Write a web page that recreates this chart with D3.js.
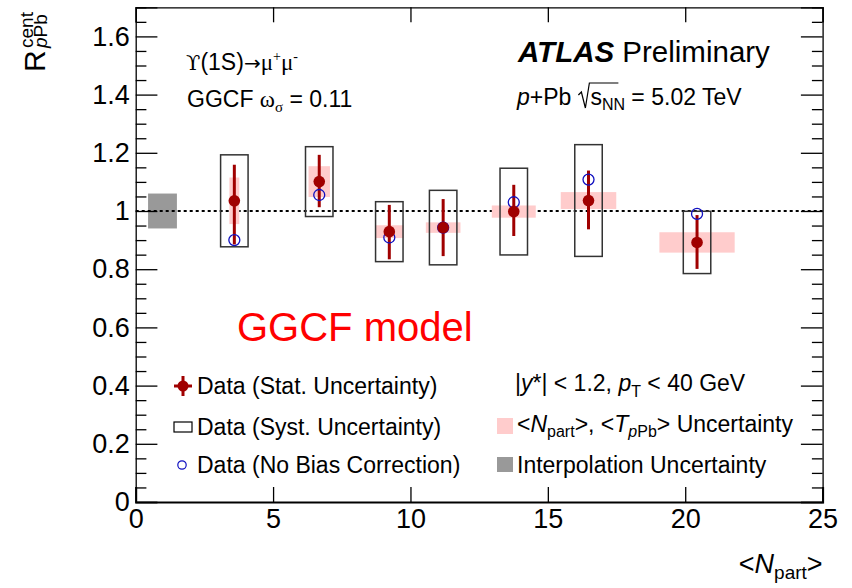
<!DOCTYPE html>
<html>
<head>
<meta charset="utf-8">
<script src="https://cdn.jsdelivr.net/npm/d3@7"></script>
<style>
  body { margin: 0; background: #fff; }
  text { font-family: "Liberation Sans", Arial, sans-serif; }
</style>
</head>
<body>
<div id="chart"></div>
<script>
// <Npart> bin centres and R_pPb^cent values
const npart = [3.59, 6.68, 9.23, 11.19, 13.76, 16.48, 20.43];
const rcp = [1.035, 1.101, 0.929, 0.943, 0.998, 1.036, 0.892];
const statUp = [0.124, 0.092, 0.092, 0.098, 0.092, 0.103, 0.094];
const statDown = [0.150, 0.088, 0.095, 0.098, 0.084, 0.099, 0.091];
const systErr = [0.158, 0.120, 0.103, 0.128, 0.149, 0.192, 0.107];
// <Npart>, <TpPb> uncertainty (pink boxes)
const npartErr = [0.18, 0.39, 0.52, 0.63, 0.80, 1.01, 1.37];
const tppbErr = [0.080, 0.053, 0.022, 0.018, 0.021, 0.029, 0.035];
// no bias correction
const noBias = [0.900, 1.055, 0.909, 0.943, 1.030, 1.108, 0.990];
// interpolation uncertainty band at low Npart
const interpX = [0.45, 1.5];
const interpY = [0.94, 1.06];

const xTicks = [0, 5, 10, 15, 20, 25];
const xTickLabels = ["0", "5", "10", "15", "20", "25"];
const yTicks = [0, 0.2, 0.4, 0.6, 0.8, 1, 1.2, 1.4, 1.6];
const yTickLabels = ["0", "0.2", "0.4", "0.6", "0.8", "1", "1.2", "1.4", "1.6"];

const width = 852, height = 588;
const padL = 135.7, padR = 822.6, padT = 7.3, padB = 502;

const x = d3.scaleLinear().domain([0, 25]).range([padL, padR]);
const y = d3.scaleLinear().domain([0, 1.7]).range([padB, padT]);

const svg = d3.select('#chart').append('svg')
  .attr('width', width)
  .attr('height', height);

const DARKRED = '#a00000';
const PINK = '#ffcccc';
const GREY = '#999999';
const BLUE = '#1010c0';

// interpolation band
svg.append('rect')
  .attr('x', x(interpX[0]))
  .attr('y', y(interpY[1]))
  .attr('width', x(interpX[1]) - x(interpX[0]))
  .attr('height', y(interpY[0]) - y(interpY[1]))
  .attr('fill', GREY);

// dotted line at unity
svg.append('line')
  .attr('x1', x(0)).attr('x2', x(25))
  .attr('y1', y(1)).attr('y2', y(1))
  .attr('stroke', '#000')
  .attr('stroke-width', 2)
  .attr('stroke-dasharray', '3,3');

// pink boxes
svg.selectAll('.pink').data(npart).enter().append('rect')
  .attr('class', 'pink')
  .attr('x', (d, i) => x(d - npartErr[i]))
  .attr('y', (d, i) => y(rcp[i] + tppbErr[i]))
  .attr('width', (d, i) => x(d + npartErr[i]) - x(d - npartErr[i]))
  .attr('height', (d, i) => y(rcp[i] - tppbErr[i]) - y(rcp[i] + tppbErr[i]))
  .attr('fill', PINK);

// systematic boxes
svg.selectAll('.syst').data(npart).enter().append('rect')
  .attr('class', 'syst')
  .attr('x', d => x(d - 0.5))
  .attr('y', (d, i) => y(rcp[i] + systErr[i]))
  .attr('width', d => x(d + 0.5) - x(d - 0.5))
  .attr('height', (d, i) => y(rcp[i] - systErr[i]) - y(rcp[i] + systErr[i]))
  .attr('fill', 'none')
  .attr('stroke', '#333')
  .attr('stroke-width', 1.5);

// stat error bars
svg.selectAll('.stat').data(npart).enter().append('line')
  .attr('class', 'stat')
  .attr('x1', d => x(d)).attr('x2', d => x(d))
  .attr('y1', (d, i) => y(rcp[i] + statUp[i]))
  .attr('y2', (d, i) => y(rcp[i] - statDown[i]))
  .attr('stroke', DARKRED)
  .attr('stroke-width', 3);

// open circles (no bias correction)
svg.selectAll('.nobias').data(npart).enter().append('circle')
  .attr('class', 'nobias')
  .attr('cx', d => x(d))
  .attr('cy', (d, i) => y(noBias[i]))
  .attr('r', 5.5)
  .attr('fill', 'none')
  .attr('stroke', BLUE)
  .attr('stroke-width', 1.3);

// data points
svg.selectAll('.pt').data(npart).enter().append('circle')
  .attr('class', 'pt')
  .attr('cx', d => x(d))
  .attr('cy', (d, i) => y(rcp[i]))
  .attr('r', 5.8)
  .attr('fill', DARKRED);

// axes, ROOT style with inward ticks
const axisFont = g => g.selectAll('text')
  .attr('font-family', '"Liberation Sans", Arial, sans-serif')
  .attr('font-size', 27)
  .attr('fill', '#000');

svg.append('g')
  .attr('transform', `translate(0,${padB})`)
  .call(d3.axisBottom(x).tickValues(xTicks).tickSize(-15).tickPadding(7)
    .tickFormat((d, i) => xTickLabels[i]))
  .call(g => g.select('.domain').attr('stroke-width', 2))
  .call(axisFont);

svg.append('g')
  .attr('transform', `translate(0,${padT})`)
  .call(d3.axisTop(x).tickValues(xTicks).tickSize(-15).tickFormat(''))
  .call(g => g.select('.domain').attr('stroke-width', 1.3));

svg.append('g')
  .attr('transform', `translate(${padL},0)`)
  .call(d3.axisLeft(y).tickValues(yTicks).tickSize(-21.7).tickPadding(6)
    .tickFormat((d, i) => yTickLabels[i]))
  .call(g => g.select('.domain').attr('stroke-width', 1.3))
  .call(axisFont);

const yMinor = d3.range(0, 1.7001, 0.05).filter(v => Math.abs(v / 0.2 - Math.round(v / 0.2)) > 1e-6);

svg.append('g')
  .attr('transform', `translate(${padL},0)`)
  .call(d3.axisLeft(y).tickValues(yMinor).tickSize(-10.7).tickFormat(''))
  .call(g => g.select('.domain').remove());

svg.append('g')
  .attr('transform', `translate(${padR},0)`)
  .call(d3.axisRight(y).tickValues(yTicks).tickSize(-21.7).tickFormat(''))
  .call(g => g.select('.domain').attr('stroke-width', 1.3));

svg.append('g')
  .attr('transform', `translate(${padR},0)`)
  .call(d3.axisRight(y).tickValues(yMinor).tickSize(-10.7).tickFormat(''))
  .call(g => g.select('.domain').remove());

svg.selectAll('.tick line').attr('stroke', '#000').attr('stroke-width', 1.3);

// y axis title R_pPb^cent
const yt = svg.append('g').attr('transform', 'translate(45,72) rotate(-90)');
yt.append('text').attr('x', 0).attr('y', 0).attr('font-size', 30).text('R');
yt.append('text').attr('x', 24).attr('y', -12).attr('font-size', 19).text('cent');
const ysub = yt.append('text').attr('x', 24).attr('y', 2).attr('font-size', 19);
ysub.append('tspan').attr('font-style', 'italic').text('p');
ysub.append('tspan').text('Pb');

// x axis title <Npart>
const xt = svg.append('text').attr('x', padR).attr('y', 573)
  .attr('text-anchor', 'end').attr('font-size', 27);
xt.append('tspan').text('<');
xt.append('tspan').attr('font-style', 'italic').text('N');
xt.append('tspan').attr('font-size', 19).attr('dy', 6).text('part');
xt.append('tspan').attr('dy', -6).text('>');

// ATLAS Preliminary
const at = svg.append('text').attr('x', 518).attr('y', 62).attr('font-size', 29.5);
at.append('tspan').attr('font-weight', 'bold').attr('font-style', 'italic').text('ATLAS');
at.append('tspan').text(' Preliminary');

// p+Pb sqrt(sNN) = 5.02 TeV
const ppb = svg.append('text').attr('x', 517).attr('y', 105).attr('font-size', 23);
ppb.append('tspan').attr('font-style', 'italic').text('p');
ppb.append('tspan').text('+Pb ');
const rootX = 517 + ppb.node().getComputedTextLength() + 7;
svg.append('path')
  .attr('d', `M${rootX},${95} L${rootX + 3},${92} L${rootX + 7},${108} L${rootX + 11},${83} L${rootX + 40},${83}`)
  .attr('fill', 'none').attr('stroke', '#000').attr('stroke-width', 1.2);
const sText = svg.append('text').attr('x', rootX + 12).attr('y', 105).attr('font-size', 23);
sText.append('tspan').text('s');
sText.append('tspan').attr('font-size', 16).attr('dy', 5).text('NN');
sText.append('tspan').attr('dy', -5).text(' = 5.02 TeV');

// Upsilon decay label
const ups = svg.append('text').attr('x', 186).attr('y', 70).attr('font-size', 23);
ups.append('tspan').attr('font-family', '"DejaVu Serif", serif').attr('font-size', 21).text('\u03D2');
ups.append('tspan').text('(1S)');
ups.append('tspan').attr('font-family', '"DejaVu Sans", sans-serif').attr('font-size', 20).text('\u2192');
ups.append('tspan').attr('font-family', '"Liberation Serif", serif').text('\u03BC');
ups.append('tspan').attr('font-family', '"Liberation Serif", serif').attr('font-size', 14).attr('dy', -9).text('+');
ups.append('tspan').attr('font-family', '"Liberation Serif", serif').attr('dy', 9).text('\u03BC');
ups.append('tspan').attr('font-family', '"Liberation Serif", serif').attr('font-size', 14).attr('dy', -9).text('-');

const gg = svg.append('text').attr('x', 187).attr('y', 107).attr('font-size', 23);
gg.append('tspan').text('GGCF ');
gg.append('tspan').attr('font-family', '"Liberation Serif", serif').text('\u03C9');
gg.append('tspan').attr('font-family', '"Liberation Serif", serif').attr('font-size', 15).attr('dy', 5).text('\u03C3');
gg.append('tspan').attr('dy', -5).text(' = 0.11');

// GGCF model annotation
svg.append('text').attr('x', 237).attr('y', 341)
  .attr('font-family', 'Lato, "Open Sans", sans-serif')
  .attr('font-size', 40).attr('fill', '#ff0000').text('GGCF model');

// legend, left column
const legRows = [394, 435, 473];
const legLabels = ['Data (Stat. Uncertainty)', 'Data (Syst. Uncertainty)', 'Data (No Bias Correction)'];
legLabels.forEach((t, i) => {
  svg.append('text').attr('x', 197).attr('y', legRows[i]).attr('font-size', 23).text(t);
});
svg.append('line').attr('x1', 183).attr('x2', 183).attr('y1', 376).attr('y2', 396)
  .attr('stroke', DARKRED).attr('stroke-width', 3);
svg.append('line').attr('x1', 174).attr('x2', 192).attr('y1', 386).attr('y2', 386)
  .attr('stroke', DARKRED).attr('stroke-width', 3);
svg.append('circle').attr('cx', 183).attr('cy', 386).attr('r', 5.5).attr('fill', DARKRED);
svg.append('rect').attr('x', 174).attr('y', 422).attr('width', 18).attr('height', 10)
  .attr('fill', 'none').attr('stroke', '#000').attr('stroke-width', 1.2);
svg.append('circle').attr('cx', 182).attr('cy', 465).attr('r', 4.2)
  .attr('fill', 'none').attr('stroke', BLUE).attr('stroke-width', 1.2);

// legend, right column
const kin = svg.append('text').attr('x', 515).attr('y', 391).attr('font-size', 23);
kin.append('tspan').text('|');
kin.append('tspan').attr('font-style', 'italic').text('y');
kin.append('tspan').text('*| < 1.2, ');
kin.append('tspan').attr('font-style', 'italic').text('p');
kin.append('tspan').attr('font-size', 16).attr('dy', 6).text('T');
kin.append('tspan').attr('dy', -6).text(' < 40 GeV');

svg.append('rect').attr('x', 497).attr('y', 418).attr('width', 16).attr('height', 16).attr('fill', PINK);
const nu = svg.append('text').attr('x', 517).attr('y', 432).attr('font-size', 23);
nu.append('tspan').text('<');
nu.append('tspan').attr('font-style', 'italic').text('N');
nu.append('tspan').attr('font-size', 16).attr('dy', 5).text('part');
nu.append('tspan').attr('dy', -5).text('>, <');
nu.append('tspan').attr('font-style', 'italic').text('T');
nu.append('tspan').attr('font-size', 16).attr('font-style', 'italic').attr('dy', 5).text('p');
nu.append('tspan').attr('font-size', 16).text('Pb');
nu.append('tspan').attr('dy', -5).text('> Uncertainty');

svg.append('rect').attr('x', 497).attr('y', 457).attr('width', 16).attr('height', 15).attr('fill', GREY);
svg.append('text').attr('x', 517).attr('y', 473).attr('font-size', 23).text('Interpolation Uncertainty');
</script>
</body>
</html>
